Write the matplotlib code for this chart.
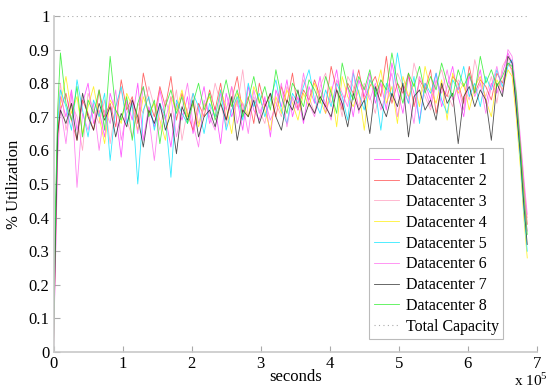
import numpy as np
import matplotlib
matplotlib.use("Agg")
from matplotlib import pyplot as plt

# sample times in thousands of seconds
t_ks = [0, 3, 6] + [10 + 8 * k for k in range(82)] + [664, 670, 676, 681, 686]

dc1 = [0.02, 0.30, 0.62, 0.76, 0.70, 0.78, 0.66, 0.74, 0.80, 0.68,
       0.72, 0.64, 0.77, 0.71, 0.58, 0.75, 0.69, 0.80, 0.63, 0.73,
       0.67, 0.78, 0.70, 0.61, 0.74, 0.69, 0.76, 0.65, 0.72, 0.79,
       0.68, 0.73, 0.62, 0.77, 0.70, 0.75, 0.66, 0.79, 0.72, 0.69,
       0.76, 0.64, 0.78, 0.73, 0.81, 0.70, 0.76, 0.68, 0.79, 0.74,
       0.82, 0.71, 0.77, 0.84, 0.73, 0.79, 0.70, 0.81, 0.76, 0.83,
       0.74, 0.80, 0.72, 0.86, 0.78, 0.71, 0.82, 0.77, 0.69, 0.80,
       0.75, 0.83, 0.73, 0.79, 0.85, 0.76, 0.70, 0.82, 0.78, 0.84,
       0.74, 0.80, 0.77, 0.83, 0.89, 0.86, 0.72, 0.58, 0.45, 0.36]
dc2 = [0.03, 0.38, 0.66, 0.72, 0.77, 0.69, 0.63, 0.75, 0.71, 0.66,
       0.78, 0.70, 0.74, 0.67, 0.81, 0.72, 0.76, 0.68, 0.83, 0.75,
       0.70, 0.79, 0.73, 0.82, 0.69, 0.77, 0.71, 0.66, 0.74, 0.70,
       0.78, 0.72, 0.80, 0.69, 0.75, 0.82, 0.71, 0.76, 0.68, 0.80,
       0.73, 0.77, 0.70, 0.79, 0.74, 0.83, 0.72, 0.78, 0.75, 0.81,
       0.76, 0.73, 0.85, 0.78, 0.72, 0.80, 0.77, 0.84, 0.75, 0.79,
       0.82, 0.76, 0.88, 0.74, 0.80, 0.77, 0.83, 0.73, 0.81, 0.78,
       0.84, 0.71, 0.79, 0.76, 0.82, 0.80, 0.74, 0.85, 0.77, 0.81,
       0.79, 0.75, 0.83, 0.80, 0.86, 0.84, 0.76, 0.62, 0.50, 0.38]
dc3 = [0.05, 0.42, 0.70, 0.80, 0.66, 0.74, 0.70, 0.60, 0.77, 0.72,
       0.68, 0.75, 0.62, 0.73, 0.78, 0.69, 0.64, 0.74, 0.71, 0.79,
       0.73, 0.66, 0.75, 0.70, 0.78, 0.63, 0.72, 0.77, 0.68, 0.74,
       0.71, 0.80, 0.74, 0.67, 0.79, 0.73, 0.84, 0.70, 0.76, 0.72,
       0.68, 0.77, 0.74, 0.70, 0.79, 0.75, 0.72, 0.81, 0.76, 0.71,
       0.79, 0.83, 0.74, 0.78, 0.70, 0.82, 0.79, 0.73, 0.80, 0.76,
       0.71, 0.81, 0.78, 0.75, 0.83, 0.79, 0.74, 0.86, 0.80, 0.76,
       0.72, 0.80, 0.84, 0.77, 0.73, 0.81, 0.79, 0.75, 0.87, 0.80,
       0.76, 0.82, 0.74, 0.85, 0.88, 0.83, 0.75, 0.60, 0.48, 0.40]
dc4 = [0.02, 0.33, 0.64, 0.74, 0.82, 0.71, 0.76, 0.65, 0.73, 0.79,
       0.70, 0.62, 0.75, 0.72, 0.68, 0.77, 0.73, 0.66, 0.76, 0.71,
       0.74, 0.69, 0.63, 0.76, 0.72, 0.78, 0.70, 0.74, 0.67, 0.73,
       0.76, 0.70, 0.78, 0.73, 0.65, 0.77, 0.74, 0.70, 0.79, 0.75,
       0.72, 0.66, 0.76, 0.71, 0.78, 0.74, 0.69, 0.77, 0.73, 0.80,
       0.75, 0.71, 0.79, 0.67, 0.82, 0.76, 0.73, 0.78, 0.66, 0.81,
       0.77, 0.84, 0.74, 0.79, 0.68, 0.82, 0.76, 0.80, 0.73, 0.85,
       0.78, 0.74, 0.81, 0.69, 0.83, 0.77, 0.80, 0.72, 0.79, 0.82,
       0.75, 0.70, 0.81, 0.78, 0.84, 0.82, 0.70, 0.55, 0.40, 0.28]
dc5 = [0.04, 0.40, 0.68, 0.78, 0.73, 0.66, 0.81, 0.72, 0.64, 0.75,
       0.70, 0.77, 0.57, 0.73, 0.79, 0.68, 0.74, 0.50, 0.72, 0.76,
       0.66, 0.74, 0.70, 0.52, 0.75, 0.71, 0.68, 0.77, 0.73, 0.65,
       0.74, 0.70, 0.78, 0.66, 0.72, 0.76, 0.69, 0.80, 0.73, 0.77,
       0.70, 0.75, 0.81, 0.72, 0.68, 0.77, 0.74, 0.79, 0.84, 0.75,
       0.71, 0.78, 0.73, 0.80, 0.76, 0.69, 0.83, 0.77, 0.72, 0.81,
       0.78, 0.66, 0.80, 0.76, 0.89, 0.79, 0.74, 0.82, 0.68, 0.80,
       0.77, 0.83, 0.75, 0.71, 0.81, 0.78, 0.85, 0.76, 0.80, 0.73,
       0.82, 0.78, 0.84, 0.79, 0.85, 0.87, 0.74, 0.57, 0.42, 0.30]
dc6 = [0.01, 0.28, 0.58, 0.73, 0.62, 0.77, 0.49, 0.71, 0.66, 0.74,
       0.60, 0.72, 0.68, 0.78, 0.63, 0.71, 0.75, 0.65, 0.79, 0.70,
       0.57, 0.73, 0.69, 0.76, 0.64, 0.72, 0.80, 0.68, 0.61, 0.75,
       0.70, 0.66, 0.77, 0.72, 0.79, 0.68, 0.74, 0.65, 0.78, 0.71,
       0.75, 0.69, 0.73, 0.80, 0.67, 0.76, 0.72, 0.83, 0.74, 0.70,
       0.78, 0.74, 0.69, 0.81, 0.77, 0.73, 0.84, 0.71, 0.79, 0.75,
       0.80, 0.72, 0.77, 0.83, 0.70, 0.79, 0.76, 0.68, 0.82, 0.78,
       0.73, 0.81, 0.77, 0.84, 0.75, 0.79, 0.72, 0.83, 0.76, 0.80,
       0.71, 0.79, 0.85, 0.77, 0.90, 0.88, 0.78, 0.64, 0.52, 0.41]
dc7 = [0.02, 0.35, 0.65, 0.72, 0.68, 0.74, 0.63, 0.77, 0.70, 0.66,
       0.74, 0.69, 0.73, 0.64, 0.71, 0.67, 0.75, 0.70, 0.61, 0.72,
       0.68, 0.74, 0.66, 0.71, 0.59, 0.73, 0.69, 0.75, 0.64, 0.70,
       0.72, 0.67, 0.74, 0.69, 0.76, 0.63, 0.72, 0.70, 0.75, 0.68,
       0.73, 0.77, 0.70, 0.66, 0.75, 0.72, 0.78, 0.69, 0.74, 0.71,
       0.76, 0.73, 0.70, 0.78, 0.74, 0.67, 0.77, 0.72, 0.75, 0.65,
       0.79, 0.74, 0.70, 0.77, 0.73, 0.80, 0.64, 0.76, 0.78, 0.72,
       0.75, 0.69, 0.80, 0.74, 0.77, 0.62, 0.76, 0.79, 0.73, 0.78,
       0.75, 0.63, 0.80, 0.76, 0.88, 0.86, 0.73, 0.59, 0.44, 0.32]
dc8 = [0.03, 0.45, 0.72, 0.89, 0.74, 0.69, 0.79, 0.64, 0.75, 0.71,
       0.78, 0.66, 0.88, 0.72, 0.69, 0.76, 0.63, 0.74, 0.79, 0.70,
       0.75, 0.62, 0.73, 0.78, 0.71, 0.76, 0.68, 0.74, 0.80, 0.72,
       0.77, 0.69, 0.74, 0.81, 0.73, 0.78, 0.70, 0.75, 0.82, 0.74,
       0.79, 0.72, 0.84, 0.76, 0.71, 0.80, 0.77, 0.73, 0.81, 0.78,
       0.74, 0.82, 0.77, 0.71, 0.86, 0.79, 0.75, 0.82, 0.78, 0.84,
       0.76, 0.81, 0.78, 0.89, 0.80, 0.74, 0.83, 0.79, 0.85, 0.77,
       0.82, 0.78, 0.86, 0.80, 0.76, 0.84, 0.79, 0.83, 0.77, 0.88,
       0.80, 0.84, 0.79, 0.82, 0.86, 0.85, 0.77, 0.61, 0.47, 0.35]

series = [dc1, dc2, dc3, dc4, dc5, dc6, dc7, dc8]
names = ["Datacenter %d" % (i + 1) for i in range(8)]
colors = ["#ff33ff", "#ff4040", "#ff99bb", "#ffee00",
          "#00e5ff", "#ff66ee", "#222222", "#22ee22"]
capacity = 1.0

plt.rcParams["font.family"] = "serif"
plt.rcParams["font.serif"] = ["Liberation Serif", "DejaVu Serif"]
plt.rcParams["mathtext.fontset"] = "custom"
plt.rcParams["mathtext.rm"] = "Liberation Serif"

fig = plt.figure(figsize=(5.49, 3.89), dpi=100)
ax = fig.add_axes([0.0975, 0.095, 0.8805, 0.864])

t = np.array(t_ks) * 1000.0
for y, name, c in zip(series, names, colors):
    ax.plot(t, y, color=c, lw=0.6, alpha=0.8, label=name)
ax.plot([0, t[-1]], [capacity, capacity], ls=(0, (1, 3)), color="#aaaaaa",
        lw=0.8, label="Total Capacity")

ax.set_xlim(0, 7e5)
ax.set_ylim(0, 1)
ax.set_xticks(np.arange(0, 8) * 1e5)
ax.set_xticklabels([str(i) for i in range(8)])
ax.set_yticks(np.arange(0, 11) / 10)
ax.set_yticklabels(["0"] + ["%.1f" % (i / 10) for i in range(1, 10)] + ["1"])
for s in ["top", "right"]:
    ax.spines[s].set_visible(False)
for s in ["left", "bottom"]:
    ax.spines[s].set_color("#c8c8c8")
    ax.spines[s].set_linewidth(1.2)
ax.tick_params(direction="in", length=4, color="#aaaaaa", labelsize=12,
               pad=3)
ax.set_xlabel("seconds", fontsize=12, labelpad=-2)
ax.set_ylabel("% Utilization", fontsize=12, labelpad=5)
fig.text(0.998, 0.0, r"x 10$^5$", fontsize=11, ha="right", va="bottom")

leg = ax.legend(loc="lower right", bbox_to_anchor=(0.93, 0.038), fontsize=11.5,
                frameon=True, fancybox=False, handlelength=1.6,
                borderpad=0.28, labelspacing=0.3, handletextpad=0.4,
                borderaxespad=0)
leg.get_frame().set_edgecolor("#aaaaaa")
leg.get_frame().set_linewidth(0.8)

fig.savefig("out.png", dpi=100)
